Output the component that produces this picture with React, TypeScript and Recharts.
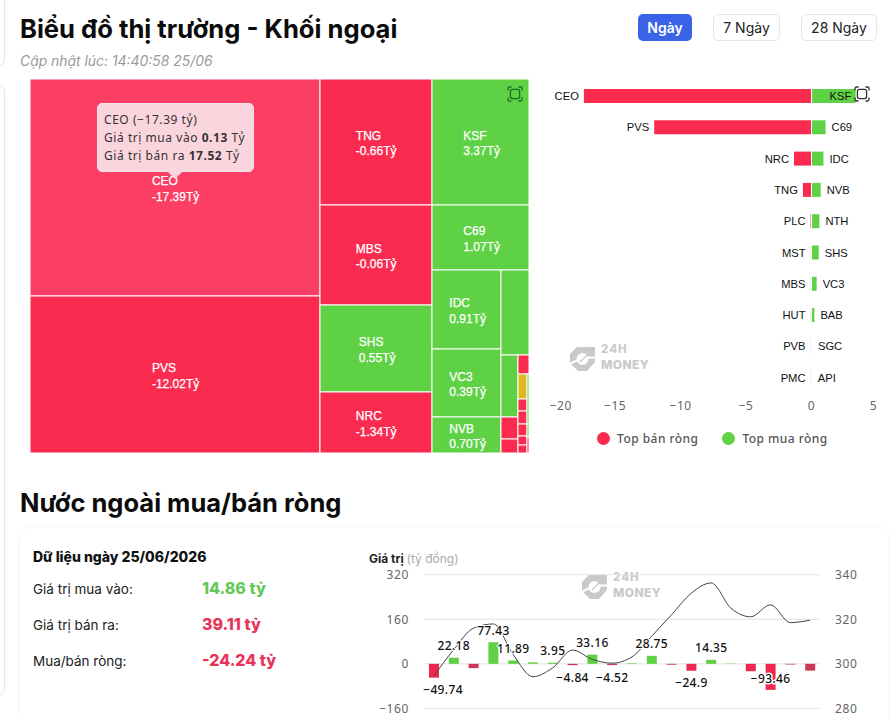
import React from 'react';
import { Bar, BarChart, Cell, CartesianGrid, ComposedChart, LabelList, Legend, Line, ReferenceLine, Treemap, XAxis, YAxis } from 'recharts';

// ---------- data: treemap cells (size = cell weight, net = value in tỷ)
const bigSell = [
  { name: 'CEO', size: 62930, net: -17.39 },
  { name: 'PVS', size: 45530, net: -12.02 },
];
const topRow = [
  { name: 'TNG', size: 14112, net: -0.66 },
  { name: 'KSF', size: 12222, net: 3.37 },
];
const middleColumn = [
  { name: 'MBS', size: 11200, net: -0.06 },
  { name: 'SHS', size: 9744, net: 0.55 },
  { name: 'NRC', size: 6832, net: -1.34 },
];
const c69Cell = { name: 'C69', size: 6305, net: 1.07 };
const labelledColumn = [
  { name: 'IDC', size: 5451, net: 0.91 },
  { name: 'VC3', size: 4692, net: 0.39 },
  { name: 'NVB', size: 2484, net: 0.7 },
];
const hiddenTop = { name: 'NTH', size: 2380, net: 0.6 };
const hiddenLeft = [
  { name: 'BAB', size: 1054, net: 0.22 },
  { name: 'PLC', size: 374, net: -0.07 },
  { name: 'HUT', size: 238, net: -0.03 },
];
const hiddenFirst = { name: 'MST', size: 209, net: -0.05 };
const hiddenMain = [
  { name: 'REF', size: 225, net: 0 },
  { name: 'PVB', size: 108, net: -0.02 },
  { name: 'PMC', size: 117, net: -0.02 },
  { name: 'TIG', size: 108, net: -0.01 },
  { name: 'VFS', size: 81, net: -0.01 },
  { name: 'DTD', size: 72, net: -0.01 },
];
const hiddenSliver = [
  { name: 'SGC', size: 100, net: 0.03 },
  { name: 'API', size: 26, net: 0.02 },
  { name: 'AMV', size: 32, net: -0.01 },
];

// ---------- data: top net sell / buy bars
const sellNames = ['CEO', 'PVS', 'NRC', 'TNG', 'PLC', 'MST', 'MBS', 'HUT', 'PVB', 'PMC'];
const sellValues = [-17.39, -12.02, -1.34, -0.66, -0.07, -0.05, -0.06, -0.03, -0.02, -0.02];
const buyNames = ['KSF', 'C69', 'IDC', 'NVB', 'NTH', 'SHS', 'VC3', 'BAB', 'SGC', 'API'];
const buyValues = [3.37, 1.07, 0.91, 0.7, 0.6, 0.55, 0.39, 0.22, 0.03, 0.02];
const valueTicks = [-20, -15, -10, -5, 0, 5];

// ---------- data: foreign net flow
const netFlow = [-49.74, 22.18, -15.5, 77.43, 11.89, 5.2, 3.95, -4.84, 33.16, -4.52, 2.1, 28.75, -3.2, -24.9, 14.35, 1.2, -26.5, -93.46, -2.4, -24.24];
const flowLabels = ['-49.74', '22.18', '', '77.43', '11.89', '', '3.95', '-4.84', '33.16', '-4.52', '', '28.75', '', '-24.9', '14.35', '', '', '-93.46', '', ''];
const indexLine = [294.5, 306.4, 316, 317.9, 304.2, 294.2, 298.2, 306.2, 302, 300.3, 303.1, 312.4, 322, 331.7, 336.3, 325, 321.1, 326.5, 318.5, 319.6];
const flowTicks = [-160, 0, 160, 320];
const indexTicks = [280, 300, 320, 340];

// ---------- tables for the library
const row = (...children: any[]) => ({ name: '', size: 0, children: [{ name: '', size: 0 }, ...children] });
const treeData = [
  ...bigSell,
  {
    name: '',
    children: [
      ...topRow,
      row(
        { name: '', children: middleColumn },
        {
          name: '',
          children: [
            c69Cell,
            row(
              { name: '', children: labelledColumn },
              {
                name: '',
                children: [
                  hiddenTop,
                  row(
                    { name: '', children: hiddenLeft },
                    {
                      name: '',
                      children: [
                        hiddenFirst,
                        row({ name: '', children: hiddenMain }, { name: '', children: hiddenSliver }),
                      ],
                    },
                  ),
                ],
              },
            ),
          ],
        },
      ),
    ],
  },
];
const rankRows = sellNames.map((sellName, i) => ({
  sellName,
  buyName: buyNames[i],
  sell: sellValues[i],
  buy: buyValues[i],
}));
const flowRows = netFlow.map((net, i) => ({ day: i + 1, net, label: flowLabels[i], index: indexLine[i] }));

// ---------- styles
const RED = '#FB2B50';
const HOVER_RED = '#FC3D64';
const GREEN = '#5ED145';
const AMBER = '#E0B81F';
const LABEL_FONT = '"Liberation Sans", Arial, sans-serif';
const UI_FONT = 'Inter, "Noto Sans", sans-serif';
const AXIS_FONT = '"Noto Sans", sans-serif';
const darkBars = new Set([2, 7, 9, 12, 18, 19]);
const minus = (s: any) => String(s).replace('-', '\u2212');

function TreeCell(props: any) {
  const { x, y, width, height, name, net } = props;
  if (net === undefined || !width || !height) return null;
  const fill = name === 'CEO' ? HOVER_RED : net > 0 ? GREEN : net === 0 ? AMBER : RED;
  const labelled = width > 60 && height > 30;
  const text = `${net.toFixed(2)}Tỷ`;
  const left = x + width / 2 - (text.length * 5.9) / 2;
  const cy = y + height / 2;
  return (
    <g>
      <rect x={x} y={y} width={width} height={height} fill={fill} stroke="#fff" strokeWidth={1} />
      {labelled && (
        <g fontFamily={LABEL_FONT} fontSize={12} fill="#fff" stroke="#fff" strokeWidth={0.25}>
          <text x={left + 0.5} y={cy - 6.5} dominantBaseline="central">{name}</text>
          <text x={left + 0.5} y={cy + 9} dominantBaseline="central">{text}</text>
        </g>
      )}
    </g>
  );
}

function SellLabel(props: any) {
  const { x, y, width, height, value } = props;
  return (
    <text x={Math.min(x, x + width) - 5} y={y + height / 2} textAnchor="end" dominantBaseline="central" fontFamily={LABEL_FONT} fontSize={11.2} fill="#111">
      {value}
    </text>
  );
}

function BuyLabel(props: any) {
  const { x, y, width, height, value } = props;
  const end = Math.max(x, x + width);
  const px = width > 30 ? x + 18 : end + 6;
  return (
    <text x={px} y={y + height / 2} dominantBaseline="central" fontFamily={LABEL_FONT} fontSize={11.2} fill="#111">
      {value}
    </text>
  );
}

function ValueTick(props: any) {
  const { x, y, payload } = props;
  const v = payload.value;
  const anchor = v === valueTicks[0] ? 'start' : v === valueTicks[valueTicks.length - 1] ? 'end' : 'middle';
  return (
    <text x={x} y={y + 9} textAnchor={anchor} fontFamily={AXIS_FONT} fontSize={12} letterSpacing={0.5} fill="#666">
      {minus(v)}
    </text>
  );
}

function RankLegend(props: any) {
  return (
    <div style={{ display: 'flex', justifyContent: 'center', gap: 24, height: 20, alignItems: 'center', marginLeft: -2 }}>
      {(props.payload || []).map((p: any) => (
        <span key={p.value} style={{ display: 'flex', alignItems: 'center', gap: 7, fontFamily: AXIS_FONT, fontSize: 12, fontWeight: 500, letterSpacing: 0.45, color: '#555' }}>
          <i style={{ width: 13, height: 13, borderRadius: 7, background: p.color, display: 'block' }} />
          {p.value}
        </span>
      ))}
    </div>
  );
}

function FlowLabel(props: any) {
  const { x, y, width, height, value, index } = props;
  if (!value) return null;
  const net = netFlow[index];
  const top = Math.min(y, y + height);
  const bottom = Math.max(y, y + height);
  const lowest = net === Math.min(...netFlow);
  const ly = lowest ? (top + bottom) / 2 + 2 : net >= 0 ? top - 12 : bottom + 12;
  const cx = x + width / 2 + (index === 0 ? 9 : 0);
  return (
    <text x={cx} y={ly} textAnchor="middle" dominantBaseline="central" fontFamily={AXIS_FONT} fontSize={12} fontWeight={500} letterSpacing={0.35} fill="#111" stroke="#fff" strokeWidth={lowest ? 3 : 2} paintOrder="stroke">
      {minus(value)}
    </text>
  );
}

function FocusIcon({ left, top, color }: { left: number; top: number; color: string }) {
  return (
    <svg style={{ position: 'absolute', left, top }} width={16} height={16} viewBox="0 0 16 16" fill="none" stroke={color} strokeWidth={1.3}>
      <rect x={3.4} y={3.4} width={9.2} height={9.2} rx={2} />
      <path d="M1 4.5V2.5A1.5 1.5 0 0 1 2.5 1H4.5M11.5 1H13.5A1.5 1.5 0 0 1 15 2.5V4.5M15 11.5V13.5A1.5 1.5 0 0 1 13.5 15H11.5M4.5 15H2.5A1.5 1.5 0 0 1 1 13.5V11.5" />
    </svg>
  );
}

function Watermark({ left, top }: { left: number; top: number }) {
  return (
    <div style={{ position: 'absolute', left, top, width: 82, height: 26, color: '#c9c9c9', fontFamily: UI_FONT, fontWeight: 800 }}>
      <svg style={{ position: 'absolute', left: 0, top: 1 }} width={25} height={24} viewBox="0 0 25 24">
        <path d="M7 0H25V15L17 24H8L0 16V7Z" fill="#c9c9c9" />
        <circle cx={12.5} cy={12} r={6} fill="#fff" />
        <path d="M0 16.5L8 13M25 10.5H17" stroke="#fff" strokeWidth={2} fill="none" />
        <path d="M10 15L21 4" stroke="#c9c9c9" strokeWidth={1.4} fill="none" />
      </svg>
      <div style={{ position: 'absolute', left: 31, top: -2, fontSize: 11.5, lineHeight: '11px', letterSpacing: 1 }}>24H</div>
      <div style={{ position: 'absolute', left: 31, top: 12.6, fontSize: 12, lineHeight: '11px', letterSpacing: 0.4 }}>MONEY</div>
    </div>
  );
}

function RangeButton({ left, width, label, active }: { left: number; width: number; label: string; active?: boolean }) {
  return (
    <div style={{
      position: 'absolute', left, top: 14, width, height: 27, boxSizing: 'border-box', borderRadius: 5,
      background: active ? '#3B63E8' : '#fff', border: active ? 'none' : '1px solid #e5e7eb',
      color: active ? '#fff' : '#222', fontFamily: UI_FONT, fontSize: 14, fontWeight: active ? 600 : 400,
      display: 'flex', alignItems: 'center', justifyContent: 'center',
    }}>{label}</div>
  );
}

function Txt({ left, top, style, children }: any) {
  return <div style={{ position: 'absolute', left, top, whiteSpace: 'nowrap', transform: 'translateY(-50%)', ...style }}>{children}</div>;
}

export default function App() {
  return (
    <div style={{ position: 'absolute', left: 0, top: 0, width: 890, height: 717, overflow: 'hidden', background: '#fff' }}>
      <div style={{ position: 'absolute', left: -12, top: -12, width: 15, height: 76, border: '1px solid #e5e7eb', borderRadius: 6 }} />
      <div style={{ position: 'absolute', left: -12, top: 85, width: 15, height: 608, border: '1px solid #e5e7eb', borderRadius: 6 }} />

      <Txt left={20} top={28} style={{ fontFamily: UI_FONT, fontSize: 25.6, fontWeight: 700, color: '#0b0b0b' }}>Biểu đồ thị trường - Khối ngoại</Txt>
      <Txt left={20} top={61} style={{ fontFamily: UI_FONT, fontSize: 13.9, fontStyle: 'italic', color: '#9a9a9a' }}>Cập nhật lúc: 14:40:58 25/06</Txt>
      <RangeButton left={638} width={54} label="Ngày" active />
      <RangeButton left={713} width={67} label="7 Ngày" />
      <RangeButton left={801} width={76} label="28 Ngày" />

      <div style={{ position: 'absolute', left: 30, top: 79 }}>
        <Treemap width={499} height={374} data={treeData} dataKey="size" nameKey="name" aspectRatio={1.4} stroke="#fff" isAnimationActive={false} content={<TreeCell />} />
      </div>
      <FocusIcon left={507} top={86} color="#1f6b2a" />

      <div style={{ position: 'absolute', left: 97, top: 103, width: 157, height: 69, boxSizing: 'border-box', background: '#FBD5DE', borderRadius: 5, border: '1px solid #f6e3e8', padding: '7px 6px', fontFamily: AXIS_FONT, fontSize: 12, lineHeight: '18px', letterSpacing: 0.55, color: '#333', whiteSpace: 'nowrap' }}>
        <div>CEO ({'\u2212'}17.39 tỷ)</div>
        <div>Giá trị mua vào <b>0.13</b> Tỷ</div>
        <div>Giá trị bán ra <b>17.52</b> Tỷ</div>
      </div>
      <div style={{ position: 'absolute', left: 170, top: 167, width: 10, height: 10, background: '#FBD5DE', transform: 'rotate(45deg)' }} />

      <Watermark left={570} top={346} />
      <div style={{ position: 'absolute', left: 540, top: 70 }}>
        <BarChart width={350} height={380} layout="vertical" data={rankRows} stackOffset="sign" margin={{ top: 10, right: 13, bottom: 2, left: 9.7 }} barSize={14}>
          <XAxis type="number" domain={[-20, 5]} ticks={valueTicks} axisLine={false} tickLine={false} height={35} tick={<ValueTick />} interval={0} />
          <YAxis type="category" dataKey="sellName" hide />
          <Legend verticalAlign="bottom" content={<RankLegend />} />
          <Bar dataKey="sell" name="Top bán ròng" stackId="a" fill={RED} minPointSize={1} isAnimationActive={false}>
            {rankRows.map((r, i) => (
              <Cell key={i} fill={r.sell > -0.07 ? '#e6dcde' : RED} />
            ))}
            <LabelList dataKey="sellName" content={<SellLabel />} />
          </Bar>
          <Bar dataKey="buy" name="Top mua ròng" stackId="a" fill={GREEN} isAnimationActive={false}>
            <LabelList dataKey="buyName" content={<BuyLabel />} />
          </Bar>
          <ReferenceLine x={0} stroke="#fff" strokeWidth={1} />
        </BarChart>
      </div>
      <FocusIcon left={854} top={86} color="#333" />

      <Txt left={20} top={502} style={{ fontFamily: UI_FONT, fontSize: 25.5, fontWeight: 700, color: '#0b0b0b' }}>Nước ngoài mua/bán ròng</Txt>
      <div style={{ position: 'absolute', left: 20, top: 528, width: 868, height: 220, borderRadius: 12, background: '#fff', boxShadow: '0 0 5px rgba(30,50,90,0.07)' }} />
      <Txt left={33} top={556} style={{ fontFamily: UI_FONT, fontSize: 14, fontWeight: 800, color: '#111' }}>Dữ liệu ngày 25/06/2026</Txt>
      <Txt left={33} top={589} style={{ fontFamily: UI_FONT, fontSize: 13.5, color: '#222' }}>Giá trị mua vào:</Txt>
      <Txt left={33} top={625} style={{ fontFamily: UI_FONT, fontSize: 13.5, color: '#222' }}>Giá trị bán ra:</Txt>
      <Txt left={33} top={661} style={{ fontFamily: UI_FONT, fontSize: 13.5, color: '#222' }}>Mua/bán ròng:</Txt>
      <Txt left={202} top={588} style={{ fontFamily: UI_FONT, fontSize: 16, fontWeight: 800, color: '#66C85A' }}>14.86 tỷ</Txt>
      <Txt left={202} top={624} style={{ fontFamily: UI_FONT, fontSize: 16, fontWeight: 800, color: '#E8345A' }}>39.11 tỷ</Txt>
      <Txt left={202} top={660} style={{ fontFamily: UI_FONT, fontSize: 16, fontWeight: 800, color: '#E8345A' }}>-24.24 tỷ</Txt>
      <Txt left={369} top={558} style={{ fontFamily: UI_FONT, fontSize: 12, fontWeight: 700, color: '#222' }}>Giá trị <span style={{ fontWeight: 400, color: '#aaa' }}>(tỷ đồng)</span></Txt>

      <Watermark left={582} top={574} />
      <div style={{ position: 'absolute', left: 370, top: 560 }}>
        <ComposedChart width={490} height={157} data={flowRows} margin={{ top: 14.7, right: 4, bottom: 8.6, left: 16 }} barSize={10}>
          <CartesianGrid yAxisId="flow" vertical={false} stroke="#e3e3e3" />
          <XAxis dataKey="day" hide />
          <YAxis yAxisId="flow" width={38} domain={[flowTicks[0], flowTicks[3]]} ticks={flowTicks} axisLine={false} tickLine={false} tickSize={0} tickMargin={15} tickFormatter={minus} tick={{ fontFamily: AXIS_FONT, fontSize: 12, letterSpacing: 0.6, fill: '#666' }} interval={0} />
          <YAxis yAxisId="index" orientation="right" width={36} domain={[indexTicks[0], indexTicks[3]]} ticks={indexTicks} axisLine={false} tickLine={false} tickSize={0} tickMargin={15} tick={{ fontFamily: AXIS_FONT, fontSize: 12, letterSpacing: 0.6, fill: '#666' }} interval={0} />
          <Bar yAxisId="flow" dataKey="net" isAnimationActive={false}>
            {flowRows.map((r, i) => (
              <Cell key={i} fill={r.net >= 0 ? GREEN : darkBars.has(i) ? '#CF3559' : '#F0284F'} />
            ))}
            <LabelList dataKey="label" content={<FlowLabel />} />
          </Bar>
          <Line yAxisId="index" dataKey="index" type="monotone" stroke="#444" strokeWidth={1} dot={false} isAnimationActive={false} />
        </ComposedChart>
      </div>
    </div>
  );
}
